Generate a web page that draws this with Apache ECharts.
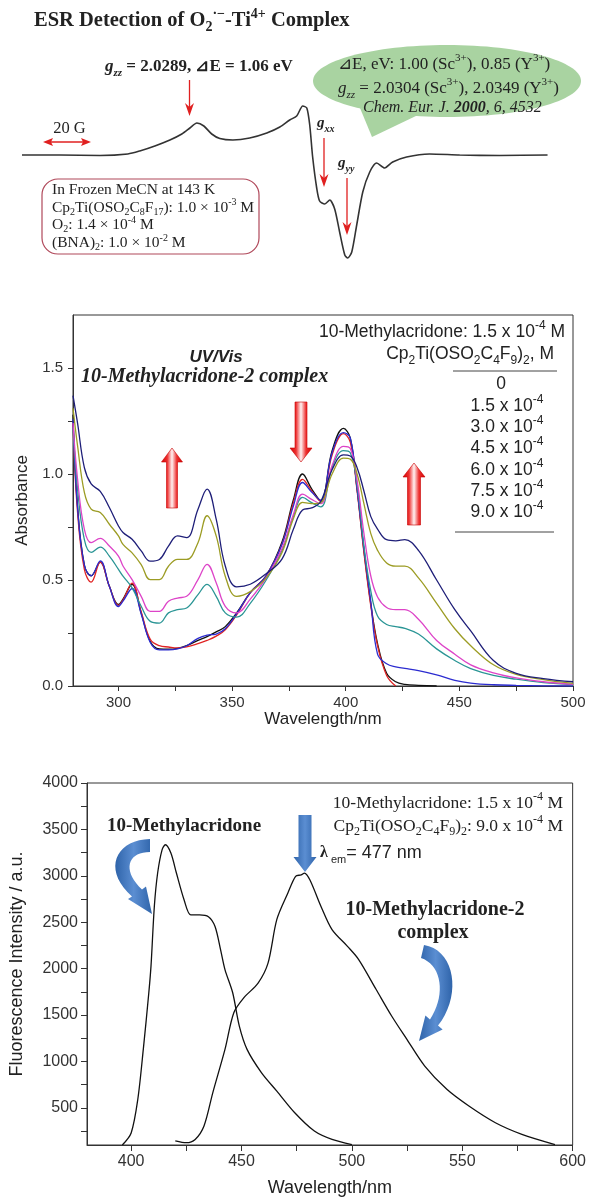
<!DOCTYPE html>
<html>
<head>
<meta charset="utf-8">
<title>ESR / UV-Vis / Fluorescence of 10-Methylacridone-2 complex</title>
<script src="https://cdn.jsdelivr.net/npm/echarts@6/dist/echarts.min.js"></script>
<style>
  html, body { margin: 0; padding: 0; background: #fff; }
  #chart { width: 589px; height: 1198px; }
</style>
</head>
<body>
<div id="chart"></div>
<script>
// ---- ESR trace (field offset in G, signal in arbitrary units) ----
const esrField = [0, 16.9, 34.7, 47.1, 52.4, 59.1, 65.8, 71.1, 74.7, 77.8, 80.9, 84.4, 88, 93.8, 101.3, 108.9, 114.7, 119.1, 122.2, 124.9,
  126.7, 128, 129.3, 131.1, 132.4, 134.7, 136.9, 139.1, 141.3, 143.6, 144.9, 146.7, 148.9, 151.6, 154.7, 157.8, 161.3, 164.9, 171.1, 181.3,
  194.7, 212.4, 233.8];
const esrSignal = [0, 0, -0.5, 1, 4, 9, 15, 21, 27, 32, 29, 21, 16.5, 15, 17, 22, 28, 35, 39, 49,
  47, 30, -2, -33, -46, -49, -45, -54, -77, -100, -103, -97, -70, -37, -17, -8, -13, -7, -2, 1,
  0, -0.5, 0];

// ---- UV/Vis titration (wavelength nm, absorbance) ----
const uvWavelength = [280, 282, 285, 288, 292, 296, 300, 302, 306, 310, 314, 318, 322, 326, 330, 335, 339, 343, 347, 352,
  358, 365, 372, 377, 381, 385, 389, 394, 399, 402, 405, 408, 411, 414, 418, 422, 426, 432, 440, 448,
  455, 465, 475, 487, 500];
const abs0 = [1.28, 0.85, 0.57, 0.52, 0.585, 0.47, 0.385, 0.41, 0.48, 0.345, 0.21, 0.175, 0.174, 0.178, 0.19, 0.215, 0.233, 0.255, 0.28, 0.345,
  0.44, 0.52, 0.68, 0.88, 1.00, 0.93, 0.875, 1.11, 1.215, 1.17, 0.93, 0.64, 0.39, 0.20, 0.06, 0.02, 0.008, 0.003, 0.0, null,
  null, null, null, null, null];
const abs15 = [1.24, 0.82, 0.55, 0.49, 0.585, 0.47, 0.38, 0.405, 0.485, 0.35, 0.22, 0.19, 0.184, 0.18, 0.185, 0.20, 0.215, 0.235, 0.265, 0.335,
  0.44, 0.52, 0.67, 0.865, 0.975, 0.92, 0.87, 1.09, 1.19, 1.15, 0.92, 0.63, 0.38, 0.19, 0.05, 0.0, null, null, null, null,
  null, null, null, null, null];
const abs30 = [1.26, 0.84, 0.57, 0.52, 0.59, 0.47, 0.375, 0.40, 0.46, 0.34, 0.205, 0.17, 0.17, 0.175, 0.19, 0.225, 0.24, 0.245, 0.27, 0.34,
  0.44, 0.52, 0.67, 0.85, 0.96, 0.915, 0.875, 1.10, 1.195, 1.17, 0.93, 0.65, 0.40, 0.15, 0.105, 0.09, 0.083, 0.072, 0.052, 0.027,
  0.014, 0.006, 0.003, 0.001, 0.0];
const abs45 = [1.22, 0.93, 0.69, 0.63, 0.655, 0.613, 0.55, 0.518, 0.463, 0.376, 0.305, 0.297, 0.345, 0.36, 0.368, 0.431, 0.479, 0.423, 0.345, 0.325,
  0.39, 0.50, 0.64, 0.80, 0.89, 0.865, 0.845, 1.03, 1.11, 1.10, 0.95, 0.66, 0.45, 0.33, 0.29, 0.28, 0.272, 0.245, 0.175, 0.12,
  0.082, 0.05, 0.032, 0.016, 0.006];
const abs60 = [1.24, 0.976, 0.739, 0.676, 0.696, 0.66, 0.613, 0.566, 0.502, 0.423, 0.352, 0.352, 0.40, 0.415, 0.423, 0.502, 0.574, 0.487, 0.376, 0.345,
  0.41, 0.51, 0.65, 0.81, 0.905, 0.88, 0.86, 1.04, 1.13, 1.12, 0.97, 0.72, 0.52, 0.42, 0.37, 0.36, 0.36, 0.315, 0.215, 0.15,
  0.10, 0.062, 0.038, 0.02, 0.008];
const abs75 = [1.31, 1.134, 0.913, 0.834, 0.818, 0.763, 0.708, 0.668, 0.628, 0.573, 0.502, 0.502, 0.565, 0.597, 0.597, 0.676, 0.803, 0.708, 0.518, 0.423,
  0.445, 0.51, 0.63, 0.79, 0.866, 0.86, 0.865, 1.00, 1.075, 1.07, 1.0, 0.86, 0.72, 0.64, 0.58, 0.565, 0.565, 0.51, 0.39, 0.27,
  0.19, 0.10, 0.055, 0.03, 0.012];
const abs90 = [1.37, 1.24, 1.03, 0.953, 0.918, 0.842, 0.755, 0.724, 0.692, 0.637, 0.589, 0.597, 0.66, 0.708, 0.70, 0.834, 0.929, 0.787, 0.566, 0.468,
  0.48, 0.53, 0.60, 0.74, 0.83, 0.84, 0.87, 1.02, 1.09, 1.085, 1.03, 0.92, 0.80, 0.74, 0.69, 0.685, 0.69, 0.64, 0.50, 0.36,
  0.26, 0.12, 0.06, 0.035, 0.02];
const concLabels = ['0', '1.5 x 10{p|-4}', '3.0 x 10{p|-4}', '4.5 x 10{p|-4}', '6.0 x 10{p|-4}', '7.5 x 10{p|-4}', '9.0 x 10{p|-4}'];

// ---- fluorescence (wavelength nm, intensity a.u.) ----
const flWlFree = [396, 400, 403, 405.5, 408, 409, 410.5, 412, 414, 415.5, 418, 420.5, 424, 427, 431, 435, 438, 440.5, 442.5, 446,
  449, 452.5, 459, 466, 474, 483, 491, 500];
const flFree = [100, 230, 590, 1130, 1740, 2030, 2670, 3030, 3280, 3335, 3245, 3030, 2740, 2580, 2580, 2560, 2455, 2205, 1990, 1740,
  1380, 1130, 880, 680, 450, 250, 160, 105];
const flWlComplex = [420, 425, 429, 433, 437, 442.5, 446.5, 451, 457.5, 462, 466, 471, 474.5, 477, 478.5, 481, 486, 491, 498, 503,
  511, 518, 525, 533, 543, 553, 565, 577, 592];
const flComplex = [145, 125, 160, 305, 665, 1130, 1525, 1685, 1845, 2060, 2530, 2815, 2995, 3010, 3030, 2955, 2670, 2420, 2240, 2100,
  1775, 1490, 1235, 950, 700, 520, 340, 215, 105];

// ---- ticks ----
const uvXTicks = [300, 325, 350, 375, 400, 425, 450, 475, 500];
const uvXLabels = [300, 350, 400, 450, 500];
const uvYTicks = [0, 0.25, 0.5, 0.75, 1, 1.25, 1.5];
const uvYLabels = [0, 0.5, 1, 1.5];
const flXTicks = [400, 425, 450, 475, 500, 525, 550, 575, 600];
const flXLabels = [400, 450, 500, 550, 600];
const flYTicks = [250, 500, 750, 1000, 1250, 1500, 1750, 2000, 2250, 2500, 2750, 3000, 3250, 3500, 3750, 4000];
const flYLabels = [500, 1000, 1500, 2000, 2500, 3000, 3500, 4000];

const SERIF = '"Liberation Serif", "Times New Roman", serif';
const SANS = '"Liberation Sans", Arial, sans-serif';
const INK = '#222';

function zip(xs, ys) {
  const out = [];
  xs.forEach((x, i) => { if (ys[i] !== null) out.push([x, ys[i]]); });
  return out;
}

// rich styles: s = subscript, p = superscript, g/gs = italic bold g and its index
function richSet(base) {
  const small = Math.round(base.fontSize * 0.66);
  return {
    s: Object.assign({}, base, { fontSize: small, verticalAlign: 'bottom' }),
    p: Object.assign({}, base, { fontSize: small, verticalAlign: 'top' }),
    g: Object.assign({}, base, { fontStyle: 'italic', fontWeight: 'bold' }),
    gs: Object.assign({}, base, { fontStyle: 'italic', fontWeight: 'bold', fontSize: small, verticalAlign: 'bottom' }),
    is: Object.assign({}, base, { fontStyle: 'italic', fontSize: small, verticalAlign: 'bottom' }),
    i: Object.assign({}, base, { fontStyle: 'italic' }),
    bi: Object.assign({}, base, { fontStyle: 'italic', fontWeight: 'bold' })
  };
}

function label(x, y, text, base, align, extra) {
  const a = align || 'left';
  return {
    type: 'text', x: x, y: y, silent: true, z: 10,
    style: Object.assign({ fill: INK }, base, {
      text: text, rich: richSet(Object.assign({ fill: INK }, base)),
      lineHeight: base.fontSize + (extra === undefined ? 7 : extra),
      textAlign: a, align: a, textVerticalAlign: 'middle', verticalAlign: 'middle'
    })
  };
}

function thinArrow(x, y1, y2, color) {
  const d = y2 > y1 ? 1 : -1;
  return [
    { type: 'line', z: 10, shape: { x1: x, y1: y1, x2: x, y2: y2 - d * 8 }, style: { stroke: color, lineWidth: 1.3 } },
    { type: 'polygon', z: 10, shape: { points: [[x, y2], [x - 4.5, y2 - d * 13], [x, y2 - d * 9], [x + 4.5, y2 - d * 13]] }, style: { fill: color } }
  ];
}

function blockArrow(cx, yBase, yTip, sw, hw, headLen, fill, stroke) {
  const d = yTip > yBase ? 1 : -1;
  const yh = yTip - d * headLen;
  return {
    type: 'polygon', z: 10,
    shape: { points: [[cx, yTip], [cx + hw, yh], [cx + sw, yh], [cx + sw, yBase], [cx - sw, yBase], [cx - sw, yh], [cx - hw, yh]] },
    style: { fill: fill, stroke: stroke || null, lineWidth: 0.6 }
  };
}

function cubic(p0, p1, p2, p3, n) {
  const pts = [];
  for (let i = 0; i <= n; i++) {
    const t = i / n, u = 1 - t;
    pts.push([
      u * u * u * p0[0] + 3 * u * u * t * p1[0] + 3 * u * t * t * p2[0] + t * t * t * p3[0],
      u * u * u * p0[1] + 3 * u * u * t * p1[1] + 3 * u * t * t * p2[1] + t * t * t * p3[1]
    ]);
  }
  return pts;
}

const redGrad = {
  type: 'linear', x: 0, y: 0, x2: 1, y2: 0,
  colorStops: [
    { offset: 0, color: '#d20000' }, { offset: 0.28, color: '#ee3030' }, { offset: 0.5, color: '#fff2f2' },
    { offset: 0.72, color: '#ee3030' }, { offset: 1, color: '#d20000' }
  ]
};
const blueGrad = {
  type: 'linear', x: 0, y: 0, x2: 1, y2: 0,
  colorStops: [{ offset: 0, color: '#2f64aa' }, { offset: 0.5, color: '#5b8ed2' }, { offset: 1, color: '#2f64aa' }]
};

const serif15 = { fontFamily: SERIF, fontSize: 15.5 };
const serif17 = { fontFamily: SERIF, fontSize: 17 };
const serifB15 = { fontFamily: SERIF, fontSize: 15, fontWeight: 'bold' };
const sans17 = { fontFamily: SANS, fontSize: 17.5 };
const serifFl = { fontFamily: SERIF, fontSize: 17.5 };

const graphics = [
  // ESR panel
  label(34, 21, 'ESR Detection of O{s|2}{p|·−}-Ti{p|4+} Complex', { fontFamily: SERIF, fontSize: 20.5, fontWeight: 'bold' }),
  label(105, 67, '{g|g}{gs|zz} = 2.0289, ⊿E = 1.06 eV', { fontFamily: SERIF, fontSize: 17, fontWeight: 'bold' }),
  ...thinArrow(189.5, 80, 116, '#e02020'),
  label(69.5, 129, '20 G', { fontFamily: SERIF, fontSize: 16.5 }, 'center'),
  { type: 'line', z: 10, shape: { x1: 50, y1: 142, x2: 84, y2: 142 }, style: { stroke: '#e02020', lineWidth: 1.3 } },
  { type: 'polygon', z: 10, shape: { points: [[43, 142], [53, 138], [51, 142], [53, 146]] }, style: { fill: '#e02020' } },
  { type: 'polygon', z: 10, shape: { points: [[91, 142], [81, 138], [83, 142], [81, 146]] }, style: { fill: '#e02020' } },
  { type: 'ellipse', z: 5, shape: { cx: 447, cy: 81, rx: 134, ry: 36 }, style: { fill: '#a9d3a1' } },
  { type: 'polygon', z: 5, shape: { points: [[360, 108], [372, 137], [418, 115]] }, style: { fill: '#a9d3a1' } },
  label(338, 65, '⊿E, eV: 1.00 (Sc{p|3+}), 0.85 (Y{p|3+})', serif17),
  label(338, 89, '{i|g}{is|zz} = 2.0304 (Sc{p|3+}), 2.0349 (Y{p|3+})', serif17),
  label(363, 108, '{i|Chem. Eur. J.} {bi|2000}{i|, 6, 4532}', { fontFamily: SERIF, fontSize: 16 }),
  label(317, 123, '{g|g}{gs|xx}', serifB15),
  ...thinArrow(324, 138, 187, '#e02020'),
  label(338, 163, '{g|g}{gs|yy}', serifB15),
  ...thinArrow(347, 178, 235, '#e02020'),
  { type: 'rect', z: 5, shape: { x: 42, y: 179, width: 217, height: 75, r: 16 }, style: { fill: 'none', stroke: '#b0485a', lineWidth: 1.2 } },
  label(52, 190, 'In Frozen MeCN at 143 K', serif15, 'left', 4),
  label(52, 207.5, 'Cp{s|2}Ti(OSO{s|2}C{s|8}F{s|17}): 1.0 × 10{p|-3} M', serif15, 'left', 4),
  label(52, 225, 'O{s|2}: 1.4 × 10{p|-4} M', serif15, 'left', 4),
  label(52, 243, '(BNA){s|2}: 1.0 × 10{p|-2} M', serif15, 'left', 4),

  // UV/Vis panel
  label(216, 357, 'UV/Vis', { fontFamily: SANS, fontSize: 17, fontWeight: 'bold', fontStyle: 'italic' }, 'center'),
  label(81, 377, '10-Methylacridone-2 complex', { fontFamily: SERIF, fontSize: 20, fontWeight: 'bold', fontStyle: 'italic' }),
  label(565, 332, '10-Methylacridone: 1.5 x 10{p|-4} M', sans17, 'right'),
  label(554, 354, 'Cp{s|2}Ti(OSO{s|2}C{s|4}F{s|9}){s|2}, M', sans17, 'right'),
  { type: 'line', z: 10, shape: { x1: 453, y1: 371, x2: 557, y2: 371 }, style: { stroke: '#444', lineWidth: 1 } },
  ...concLabels.map((t, i) => label(i === 0 ? 501 : 507, 384.5 + i * 21.3, t, sans17, 'center')),
  { type: 'line', z: 10, shape: { x1: 455, y1: 532, x2: 554, y2: 532 }, style: { stroke: '#444', lineWidth: 1 } },
  blockArrow(172, 508, 448, 5.5, 10.5, 14, redGrad, '#c80000'),
  blockArrow(301, 402, 462, 6, 11, 14, redGrad, '#c80000'),
  blockArrow(414, 525, 463, 6.5, 11, 14, redGrad, '#c80000'),

  // fluorescence panel
  label(107, 826, '10-Methylacridone', { fontFamily: SERIF, fontSize: 19, fontWeight: 'bold' }),
  label(563, 803, '10-Methylacridone: 1.5 x 10{p|-4} M', serifFl, 'right'),
  label(563, 826, 'Cp{s|2}Ti(OSO{s|2}C{s|4}F{s|9}){s|2}: 9.0 x 10{p|-4} M', serifFl, 'right'),
  {
    type: 'text', x: 320, y: 853, z: 10, silent: true,
    style: {
      text: '{l|λ}{e| em}{t|= 477 nm}', fill: INK, fontSize: 16, fontFamily: SANS, lineHeight: 24,
      textAlign: 'left', align: 'left', textVerticalAlign: 'middle', verticalAlign: 'middle',
      rich: {
        l: { fontFamily: SERIF, fontWeight: 'bold', fontSize: 16, fill: INK },
        e: { fontFamily: SANS, fontSize: 11, verticalAlign: 'bottom', fill: INK },
        t: { fontFamily: SANS, fontSize: 18, fill: INK }
      }
    }
  },
  blockArrow(305, 815, 872, 6.5, 11.5, 15, blueGrad),
  label(435, 910, '10-Methylacridone-2', { fontFamily: SERIF, fontSize: 20, fontWeight: 'bold' }, 'center'),
  label(433, 933, 'complex', { fontFamily: SERIF, fontSize: 20, fontWeight: 'bold' }, 'center'),
  {
    type: 'polygon', z: 10,
    shape: { points: cubic([150, 839], [115, 840], [102, 870], [132, 896.5], 18)
      .concat([[128, 899], [152, 914], [146, 886.6], [142, 889.5]])
      .concat(cubic([142, 889.5], [122, 871], [127, 852], [150, 852], 18)) },
    style: { fill: blueGrad }
  },
  {
    type: 'polygon', z: 10,
    shape: { points: cubic([424, 945], [455, 950], [462, 995], [438, 1025.6], 18)
      .concat([[442.6, 1029.4], [419, 1041], [425.4, 1015.6], [430, 1019.4]])
      .concat(cubic([430, 1019.4], [446, 995], [442, 965], [421, 958], 18)) },
    style: { fill: blueGrad }
  }
];

const axisInk = { color: '#333', width: 1 };

const chart = echarts.init(document.getElementById('chart'), null, { renderer: 'canvas' });

chart.setOption({
  backgroundColor: '#fff',
  animation: false,
  grid: [
    { left: 22, top: 100, width: 526, height: 165, show: false },
    { left: 73, top: 315, width: 500, height: 371, show: true, borderColor: '#333', borderWidth: 1 },
    { left: 87, top: 783, width: 490, height: 363, show: true, borderColor: '#333', borderWidth: 1 }
  ],
  xAxis: [
    { gridIndex: 0, type: 'value', min: 0, max: 234, show: false },
    {
      gridIndex: 1, type: 'value', min: 280, max: 500,
      name: 'Wavelength/nm', nameLocation: 'middle', nameGap: 24,
      nameTextStyle: { fontSize: 17, color: INK, fontFamily: SANS },
      axisLine: { onZero: false, lineStyle: axisInk },
      axisTick: { inside: false, length: 5, customValues: uvXTicks, lineStyle: axisInk },
      axisLabel: { customValues: uvXLabels, fontSize: 15, color: '#333', fontFamily: SANS, margin: 9 },
      splitLine: { show: false }
    },
    {
      gridIndex: 2, type: 'value', min: 380, max: 600,
      name: 'Wavelength/nm', nameLocation: 'middle', nameGap: 34,
      nameTextStyle: { fontSize: 18, color: INK, fontFamily: SANS },
      axisLine: { onZero: false, lineStyle: axisInk },
      axisTick: { inside: false, length: 6, customValues: flXTicks, lineStyle: axisInk },
      axisLabel: { customValues: flXLabels, fontSize: 16, color: '#333', fontFamily: SANS, margin: 9 },
      splitLine: { show: false }
    }
  ],
  yAxis: [
    { gridIndex: 0, type: 'value', min: -110, max: 55, show: false },
    {
      gridIndex: 1, type: 'value', min: 0, max: 1.75,
      name: 'Absorbance', nameLocation: 'middle', nameGap: 41, nameRotate: 90,
      nameTextStyle: { fontSize: 17, color: INK, fontFamily: SANS },
      axisLine: { show: true, onZero: false, lineStyle: axisInk },
      axisTick: { show: true, inside: false, length: 5, customValues: uvYTicks, lineStyle: axisInk },
      axisLabel: { customValues: uvYLabels, fontSize: 15, color: '#333', fontFamily: SANS, margin: 10, formatter: v => Number(v).toFixed(1) },
      splitLine: { show: false }
    },
    {
      gridIndex: 2, type: 'value', min: 100, max: 4000,
      name: 'Fluorescence Intensity / a.u.', nameLocation: 'middle', nameGap: 61, nameRotate: 90,
      nameTextStyle: { fontSize: 18, color: INK, fontFamily: SANS },
      axisLine: { show: true, onZero: false, lineStyle: axisInk },
      axisTick: { show: true, inside: false, length: 6, customValues: flYTicks, lineStyle: axisInk },
      axisLabel: { customValues: flYLabels, fontSize: 16, color: '#333', fontFamily: SANS, margin: 9, formatter: v => String(v) },
      splitLine: { show: false }
    }
  ],
  series: [
    {
      name: 'ESR', type: 'line', xAxisIndex: 0, yAxisIndex: 0, data: zip(esrField, esrSignal),
      showSymbol: false, smooth: 0.25, lineStyle: { color: '#333', width: 1.6 }
    },
    ...[
      ['0', abs0, '#111111'],
      ['1.5e-4', abs15, '#e02424'],
      ['3.0e-4', abs30, '#2c2cd0'],
      ['4.5e-4', abs45, '#2a9595'],
      ['6.0e-4', abs60, '#dd44c8'],
      ['7.5e-4', abs75, '#9c9c24'],
      ['9.0e-4', abs90, '#1e1e78']
    ].map(([name, vals, color]) => ({
      name: name, type: 'line', xAxisIndex: 1, yAxisIndex: 1, data: zip(uvWavelength, vals),
      showSymbol: false, smooth: 0.4, lineStyle: { color: color, width: 1.3 }
    })),
    {
      name: '10-Methylacridone', type: 'line', xAxisIndex: 2, yAxisIndex: 2, data: zip(flWlFree, flFree),
      showSymbol: false, smooth: 0.3, lineStyle: { color: '#111', width: 1.3 }
    },
    {
      name: '10-Methylacridone-2 complex', type: 'line', xAxisIndex: 2, yAxisIndex: 2, data: zip(flWlComplex, flComplex),
      showSymbol: false, smooth: 0.3, lineStyle: { color: '#111', width: 1.3 }
    }
  ],
  graphic: { elements: graphics }
});
</script>
</body>
</html>
